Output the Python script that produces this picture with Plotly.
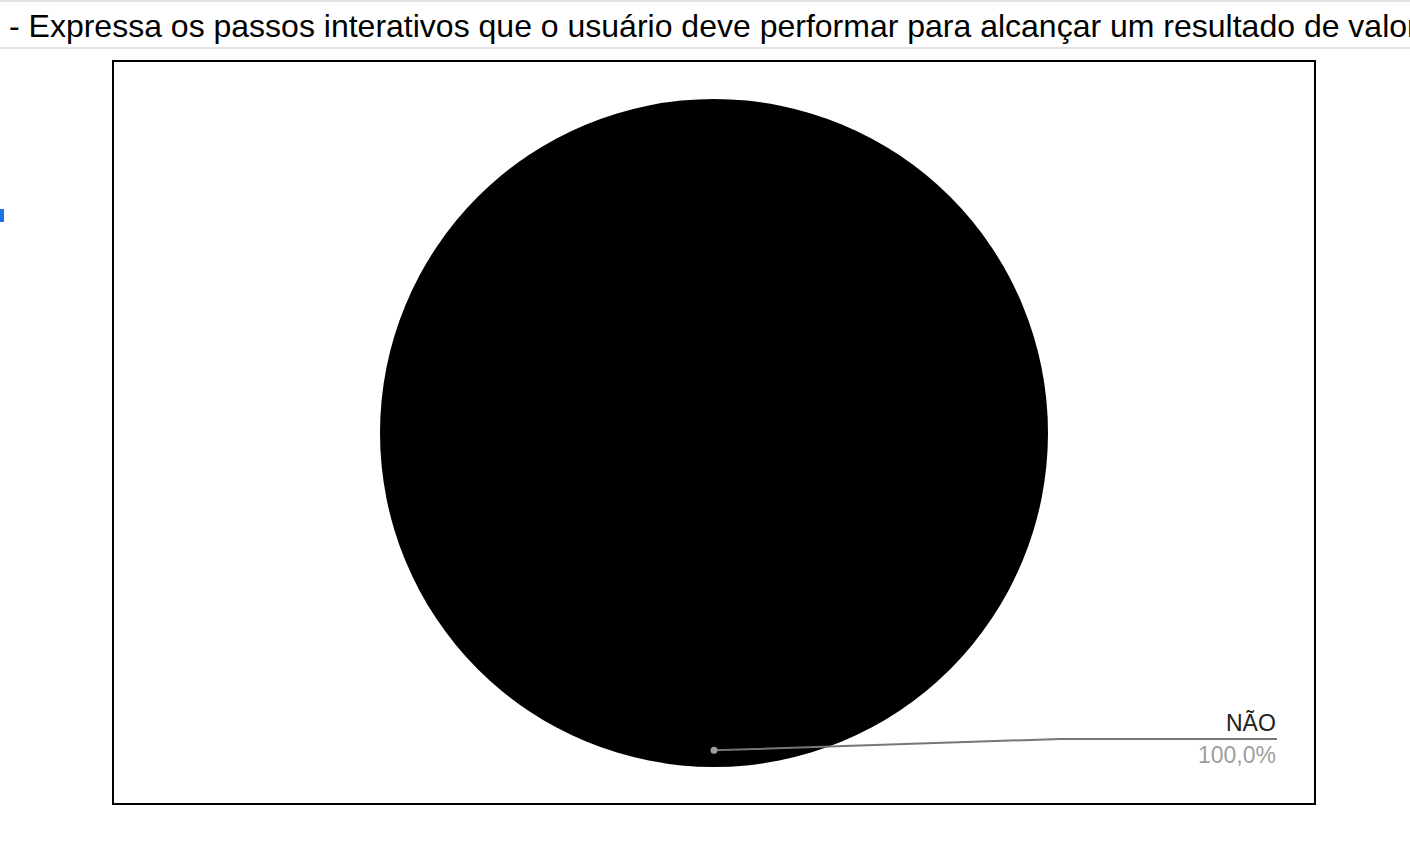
import plotly.graph_objects as go
import math

# Data
labels = ["NÃO"]
values = [1]
colors = ["#000000"]
header_text = "- Expressa os passos interativos que o usuário deve performar para alcançar um resultado de valor"

W, H = 1410, 846


def px(x):
    return x / W


def py(y):
    return 1 - y / H


# pie geometry (pixels)
cx, cy, r = 714, 433, 334

fig = go.Figure()
fig.add_trace(go.Pie(
    labels=labels, values=values, sort=False, direction="clockwise", rotation=0,
    marker=dict(colors=colors, line=dict(width=0)),
    textinfo="none", hoverinfo="label+percent", showlegend=False,
    domain=dict(x=[px(cx - r), px(cx + r)], y=[py(cy + r), py(cy - r)]),
))

total = sum(values)
shapes = []
annotations = []
cum = 0
for lab, v in zip(labels, values):
    frac = v / total
    mid = (cum + frac / 2) * 2 * math.pi
    cum += frac
    dx = cx + 0.95 * r * math.sin(mid)
    dy = cy - 0.95 * r * math.cos(mid)
    ey = 739
    shapes.append(dict(type="path", xref="paper", yref="paper",
                       path=f"M {px(dx)} {py(dy)} L {px(1060)} {py(ey)} L {px(1277)} {py(ey)}",
                       line=dict(color="#777777", width=2)))
    shapes.append(dict(type="circle", xref="paper", yref="paper",
                       x0=px(dx - 3.5), x1=px(dx + 3.5), y0=py(dy + 3.5), y1=py(dy - 3.5),
                       fillcolor="#9e9e9e", line=dict(width=0)))
    annotations.append(dict(x=px(1278), y=py(738), xref="paper", yref="paper",
                            xanchor="right", yanchor="bottom", showarrow=False,
                            text=lab, font=dict(family="Liberation Sans, Arial", size=23, color="#222222")))
    annotations.append(dict(x=px(1278), y=py(740), xref="paper", yref="paper",
                            xanchor="right", yanchor="top", showarrow=False,
                            text=f"{frac*100:.1f}%".replace(".", ","),
                            font=dict(family="Liberation Sans, Arial", size=23, color="#9e9e9e")))

# header and frame
shapes += [
    dict(type="line", xref="paper", yref="paper", x0=0, x1=1, y0=py(1), y1=py(1),
         line=dict(color="#e2e2e2", width=2)),
    dict(type="line", xref="paper", yref="paper", x0=0, x1=1, y0=py(48), y1=py(48),
         line=dict(color="#e2e2e2", width=2)),
    dict(type="rect", xref="paper", yref="paper", x0=px(113), x1=px(1315), y0=py(804), y1=py(61),
         line=dict(color="#000000", width=2), fillcolor="rgba(0,0,0,0)", layer="below"),
    dict(type="rect", xref="paper", yref="paper", x0=0, x1=px(4), y0=py(222), y1=py(209),
         fillcolor="#1a73e8", line=dict(width=0)),
]
annotations.append(dict(x=px(7), y=py(26), xref="paper", yref="paper", xanchor="left", yanchor="middle",
                        showarrow=False, text=header_text,
                        font=dict(family="Liberation Sans, Arial", size=32, color="#000000")))

fig.update_layout(
    width=W, height=H, margin=dict(l=0, r=0, t=0, b=0),
    paper_bgcolor="white", plot_bgcolor="white",
    shapes=shapes, annotations=annotations,
)
fig.write_html("out.html", config={"displayModeBar": False},
               post_script="document.body.style.margin='0';document.body.style.overflow='hidden';")
